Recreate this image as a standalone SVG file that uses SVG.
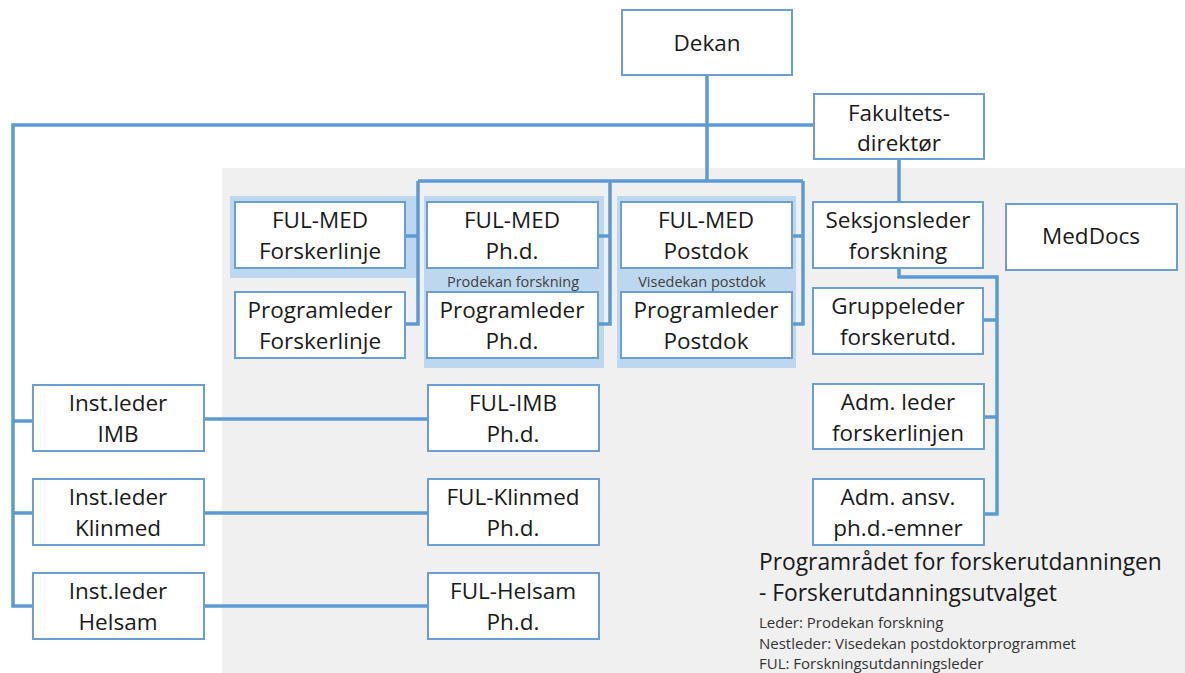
<svg xmlns="http://www.w3.org/2000/svg" width="1185" height="673" viewBox="0 0 1185 673">
<style>
.box{fill:#ffffff;stroke:#6a9fd6;stroke-width:2}
.hl{fill:#bdd7ee}
.conn{fill:none;stroke:#5b9bd5;stroke-width:3.5;stroke-linejoin:miter}
.t{font-family:"Open Sans","Noto Sans",sans-serif;font-size:22.5px;fill:#1a1a1a;text-anchor:middle}
.s{font-family:"Open Sans","Noto Sans",sans-serif;font-size:14.5px;fill:#404040}
.sb{font-family:"Open Sans","Noto Sans",sans-serif;font-size:15px;fill:#333333}
.big{font-family:"Open Sans","Noto Sans",sans-serif;font-size:22.8px;fill:#1a1a1a}
</style>
<rect x="0" y="0" width="1185" height="673" fill="#ffffff"/>
<rect x="222" y="168" width="963" height="505" fill="#f0f0f0"/>
<g id="highlights">
<rect class="hl" x="230" y="196" width="188" height="82"/>
<rect class="hl" x="424" y="196" width="180" height="172"/>
<rect class="hl" x="617" y="196" width="179" height="172"/>
<text class="s" x="513" y="287" text-anchor="middle">Prodekan forskning</text>
<text class="s" x="702" y="287" text-anchor="middle">Visedekan postdok</text>
</g>
<g id="connectors">
<path class="conn" d="M707 75 V181"/>
<path class="conn" d="M815 125 H13 V606 H33"/>
<path class="conn" d="M13 421 H33"/>
<path class="conn" d="M13 513 H33"/>
<path class="conn" d="M418 181 H803"/>
<path class="conn" d="M405 236 H418 M418 181 V324 H405"/>
<path class="conn" d="M598 236 H610 M610 181 V324 H598"/>
<path class="conn" d="M791 236 H803 M803 181 V324 H791"/>
<path class="conn" d="M899 159 V202"/>
<path class="conn" d="M899 268 V277 H997 V514 H984"/>
<path class="conn" d="M983 320 H997"/>
<path class="conn" d="M984 417 H997"/>
<path class="conn" d="M204 419 H428"/>
<path class="conn" d="M204 513 H428"/>
<path class="conn" d="M204 606 H428"/>
</g>
<g id="dekan"><rect class="box" x="622" y="10" width="170" height="65"/><text class="t" x="707" y="51">Dekan</text></g>
<g id="fakultetsdirektor"><rect class="box" x="814" y="94" width="170" height="65"/><text class="t" x="899" y="121">Fakultets-</text><text class="t" x="899" y="151">direktør</text></g>
<g id="fulmed-forskerlinje"><rect class="box" x="235" y="202" width="170" height="66"/><text class="t" x="320" y="228">FUL-MED</text><text class="t" x="320" y="259">Forskerlinje</text></g>
<g id="programleder-forskerlinje"><rect class="box" x="235" y="292" width="170" height="66"/><text class="t" x="320" y="318">Programleder</text><text class="t" x="320" y="349">Forskerlinje</text></g>
<g id="fulmed-phd"><rect class="box" x="427" y="202" width="171" height="66"/><text class="t" x="512" y="228">FUL-MED</text><text class="t" x="512" y="259">Ph.d.</text></g>
<g id="programleder-phd"><rect class="box" x="427" y="292" width="171" height="66"/><text class="t" x="512" y="318">Programleder</text><text class="t" x="512" y="349">Ph.d.</text></g>
<g id="fulmed-postdok"><rect class="box" x="621" y="202" width="171" height="66"/><text class="t" x="706" y="228">FUL-MED</text><text class="t" x="706" y="259">Postdok</text></g>
<g id="programleder-postdok"><rect class="box" x="621" y="292" width="171" height="66"/><text class="t" x="706" y="318">Programleder</text><text class="t" x="706" y="349">Postdok</text></g>
<g id="seksjonsleder"><rect class="box" x="813" y="202" width="170" height="66"/><text class="t" x="898" y="228">Seksjonsleder</text><text class="t" x="898" y="259">forskning</text></g>
<g id="meddocs"><rect class="box" x="1006" y="204" width="171" height="66"/><text class="t" x="1091" y="244">MedDocs</text></g>
<g id="gruppeleder"><rect class="box" x="813" y="288" width="170" height="66"/><text class="t" x="898" y="314">Gruppeleder</text><text class="t" x="898" y="345">forskerutd.</text></g>
<g id="adm-leder"><rect class="box" x="813" y="384" width="171" height="65"/><text class="t" x="898" y="410">Adm. leder</text><text class="t" x="898" y="441">forskerlinjen</text></g>
<g id="adm-ansv"><rect class="box" x="813" y="479" width="171" height="66"/><text class="t" x="898" y="505">Adm. ansv.</text><text class="t" x="898" y="536">ph.d.-emner</text></g>
<g id="inst-imb"><rect class="box" x="33" y="385" width="171" height="66"/><text class="t" x="118" y="411">Inst.leder</text><text class="t" x="118" y="442">IMB</text></g>
<g id="inst-klinmed"><rect class="box" x="33" y="479" width="171" height="66"/><text class="t" x="118" y="505">Inst.leder</text><text class="t" x="118" y="536">Klinmed</text></g>
<g id="inst-helsam"><rect class="box" x="33" y="573" width="171" height="66"/><text class="t" x="118" y="599">Inst.leder</text><text class="t" x="118" y="630">Helsam</text></g>
<g id="ful-imb"><rect class="box" x="428" y="385" width="171" height="66"/><text class="t" x="513" y="411">FUL-IMB</text><text class="t" x="513" y="442">Ph.d.</text></g>
<g id="ful-klinmed"><rect class="box" x="428" y="479" width="171" height="66"/><text class="t" x="513" y="505">FUL-Klinmed</text><text class="t" x="513" y="536">Ph.d.</text></g>
<g id="ful-helsam"><rect class="box" x="428" y="573" width="171" height="66"/><text class="t" x="513" y="599">FUL-Helsam</text><text class="t" x="513" y="630">Ph.d.</text></g>
<g id="legend">
<text class="big" x="759" y="570">Programrådet for forskerutdanningen</text>
<text class="big" x="759" y="601">- Forskerutdanningsutvalget</text>
<text class="sb" x="759" y="628">Leder: Prodekan forskning</text>
<text class="sb" x="759" y="649">Nestleder: Visedekan postdoktorprogrammet</text>
<text class="sb" x="759" y="669">FUL: Forskningsutdanningsleder</text>
</g>
</svg>
